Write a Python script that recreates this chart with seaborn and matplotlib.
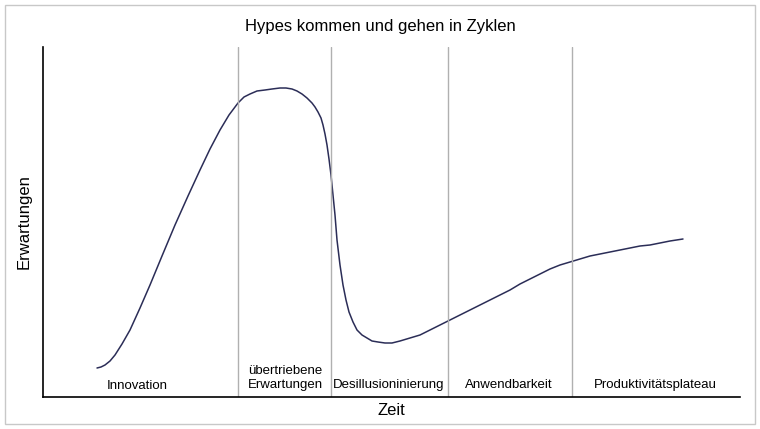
import matplotlib
matplotlib.use("Agg")
import matplotlib.pyplot as plt
import seaborn as sns
import pandas as pd
from matplotlib.patches import Rectangle

sns.set_style("white")
plt.rcParams['font.family'] = ['Liberation Sans', 'DejaVu Sans']
plt.rcParams['text.color'] = 'black'
plt.rcParams['axes.labelcolor'] = 'black'

curve_x = [97,101,105,110,115,122,130,140,150,162,175,188,200,210,220,229,238,244,250,257,265,272,280,286,292,297,302,307,312,315,318,321,323,325,327,329,331,333,335,337,340,343,346,349,353,357,362,367,372,378,385,392,400,410,420,430,440,450,460,470,480,490,500,510,520,530,540,550,560,570,580,590,600,610,620,630,640,650,660,670,683]
curve_y = [368,367,365,361,355,344,330,308,285,256,225,196,170,149,130,115,103,97,94,91,90,89,88,88,89,91,94,98,103,107,112,118,125,134,145,159,175,195,215,240,265,285,300,312,322,330,335,338,341,342,343,343,341,338,335,330,325,320,315,310,305,300,295,290,284,279,274,269,265,262,259,256,254,252,250,248,246,245,243,241,239]
phase_bounds = [238, 331, 448, 572]
phase_labels = ["Innovation", "übertriebene\nErwartungen", "Desillusioninierung", "Anwendbarkeit", "Produktivitätsplateau"]
label_x = [137, 285, 389, 509, 655]
label_y = [386, 378, 385, 385, 385]

W, H = 760, 429
fig = plt.figure(figsize=(W/100, H/100), dpi=100)
fig.add_artist(Rectangle((5/W, 5/H), 750/W, 419/H, transform=fig.transFigure,
                         fill=False, edgecolor="#c8c8c8", lw=1))
ax = fig.add_axes([43/W, (H-397)/H, (740-43)/W, 350/H])
df = pd.DataFrame({"x": curve_x, "y": [397 - v for v in curve_y]})
sns.lineplot(data=df, x="x", y="y", ax=ax, color="#2b2d57", lw=1.1, sort=False)
for b in phase_bounds:
    ax.axvline(b, color="#b0b0b0", lw=1)
for lx, ly, t in zip(label_x, label_y, phase_labels):
    ax.text(lx, 397 - ly, t, ha="center", va="center", fontsize=9.5, color="black")
ax.set_xlim(43, 740)
ax.set_ylim(0, 350)
ax.set_xticks([]); ax.set_yticks([])
for s in ["top", "right"]:
    ax.spines[s].set_visible(False)
for s in ["left", "bottom"]:
    ax.spines[s].set_color("black"); ax.spines[s].set_linewidth(1.2)
ax.set_xlabel("Zeit", fontsize=12, labelpad=4)
ax.set_ylabel("Erwartungen", fontsize=12, labelpad=8)
fig.text(380/W, 1 - 27/H, "Hypes kommen und gehen in Zyklen", ha="center", va="center", fontsize=12, color="black")
fig.savefig("out.png", dpi=100)
